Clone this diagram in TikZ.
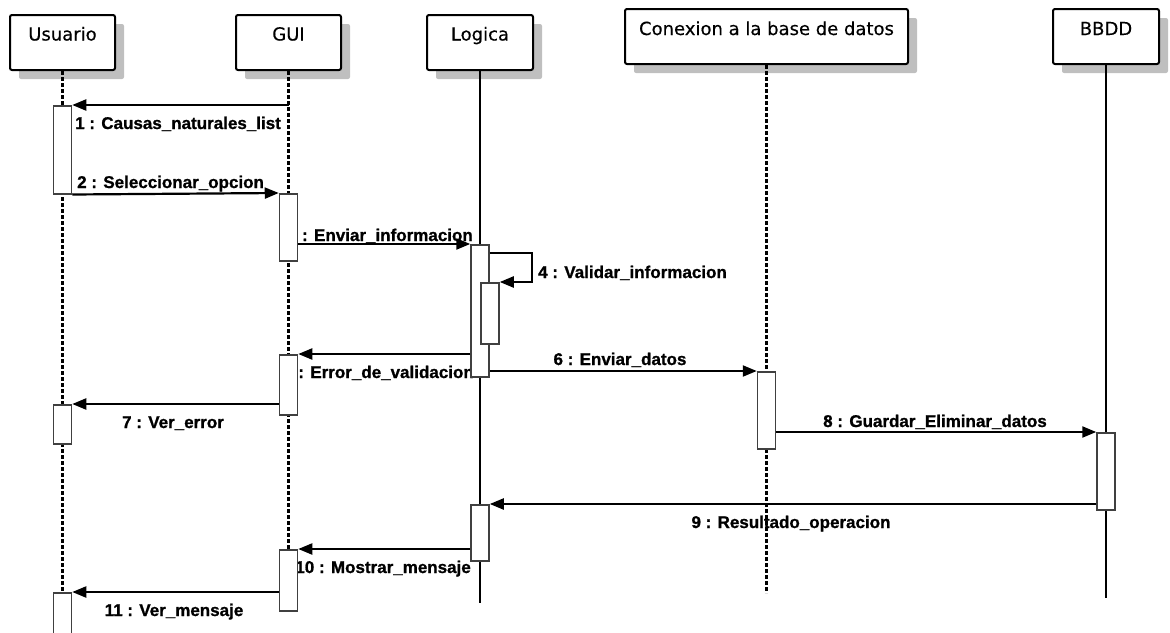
\documentclass[tikz,border=0pt]{standalone}
\usepackage{fontspec}
\usetikzlibrary{arrows.meta,shadows}
\newfontfamily\headfont[FakeBold=0.4]{DejaVu Sans}
\newfontfamily\msgfont[FakeBold=1]{Liberation Sans}
\begin{document}
\begin{tikzpicture}[x=1pt,y=-1pt,
  head/.style={draw, line width=2pt, rounded corners=2pt, fill=white,
    minimum height=55pt, inner sep=0pt,
    drop shadow={shadow xshift=9pt, shadow yshift=-9pt, fill=black!25, opacity=1}},
  headtext/.style={font=\headfont\fontsize{18}{21}\selectfont, inner sep=0pt},
  act/.style={draw=black!75, line width=1.5pt, fill=white, minimum width=18pt,
    inner sep=0pt, anchor=north},
  msg/.style={line width=2.2pt, -{Triangle[length=14pt,width=11pt]}},
  lbl/.style={font=\msgfont\bfseries\fontsize{17}{20}\selectfont, inner sep=0pt},
  lifedash/.style={line width=2.2pt, dash pattern=on 4pt off 2pt},
  lifesolid/.style={line width=2.2pt}]
\useasboundingbox (0,0) rectangle (1170,632);

% participants
\node[head, minimum width=105pt] (usr) at (62.5,42.5) {};
\node[head, minimum width=105pt] (gui) at (288.5,42.5) {};
\node[head, minimum width=106pt] (log) at (480,42.5) {};
\node[head, minimum width=283pt] (con) at (766.5,36.5) {};
\node[head, minimum width=106pt] (bd)  at (1106,36.5) {};
\node[headtext, anchor=base] (tusr) at (usr.center |- 0,40.5) {Usuario};
\node[headtext, anchor=base] (tgui) at (gui.center |- 0,40.5) {GUI};
\node[headtext, anchor=base] (tlog) at (log.center |- 0,40.5) {Logica};
\node[headtext, anchor=base] (tcon) at (con.center |- 0,35) {Conexion a la base de datos};
\node[headtext, anchor=base] (tbd)  at (bd.center |- 0,35) {BBDD};

% message labels
\node[lbl, anchor=base west] (l1) at (75,129) {1 : Causas\_naturales\_list};
\node[lbl, anchor=base west] (l2) at (77,188) {2 : Seleccionar\_opcion};
\node[lbl, anchor=base east] (l3) at (473,241) {3 : Enviar\_informacion};
\node[lbl, anchor=base west] (l4) at (538,278) {4 : Validar\_informacion};
\node[lbl, anchor=base east] (l5) at (474,378) {5 : Error\_de\_validacion};
\node[lbl, anchor=base] (l6) at (620,365) {6 : Enviar\_datos};
\node[lbl, anchor=base] (l7) at (173,428) {7 : Ver\_error};
\node[lbl, anchor=base] (l8) at (935,427) {8 : Guardar\_Eliminar\_datos};
\node[lbl, anchor=base] (l9) at (791,528) {9 : Resultado\_operacion};
\node[lbl, anchor=base east] (l10) at (471,573) {10 : Mostrar\_mensaje};
\node[lbl, anchor=base] (l11) at (174,616) {11 : Ver\_mensaje};

% lifelines
\coordinate (usrEnd) at (62.5,632);
\coordinate (guiEnd) at (288.5,549);
\coordinate (logEnd) at (480,603);
\coordinate (conEnd) at (766.5,593);
\coordinate (bdEnd)  at (1106,598);
\draw[lifedash]  (usr.south) -- (usrEnd);
\draw[lifedash]  (gui.south) -- (guiEnd);
\draw[lifesolid] (log.south) -- (logEnd);
\draw[lifedash]  (con.south) -- (conEnd);
\draw[lifesolid] (bd.south)  -- (bdEnd);

% activation bars
\node[act, minimum height=88pt] (aU1) at (62.5,105) {};
\node[act, minimum height=67pt] (aG1) at (288.5,193) {};
\node[act, minimum height=132pt] (aL1) at (480,244) {};
\node[act, minimum height=61pt] (aL1n) at (490,282) {};
\node[act, minimum height=60pt] (aG2) at (288.5,354) {};
\node[act, minimum height=77pt] (aC1) at (766.5,371) {};
\node[act, minimum height=39pt] (aU2) at (62.5,404) {};
\node[act, minimum height=77pt] (aB1) at (1106,432) {};
\node[act, minimum height=56pt] (aL2) at (480,504) {};
\node[act, minimum height=61pt] (aG3) at (288.5,549) {};
\node[act, minimum height=45pt] (aU3) at (62.5,592) {};

% messages
\coordinate (selfR) at (532,253);
\draw[msg] (aU1.north east -| gui.south) -- (aU1.north east);
\draw[msg] (aU1.south east) -- (aG1.north west);
\draw[msg] (aG1.east |- aL1.north) -- (aL1.north west);
\draw[msg] (aL1.east |- selfR) -- (selfR) |- (aL1n.north east);
\draw[msg] (aL1.west |- aG2.north) -- (aG2.north east);
\draw[msg] (aL1.east |- aC1.north) -- (aC1.north west);
\draw[msg] (aG2.west |- aU2.north) -- (aU2.north east);
\draw[msg] (aC1.east |- aB1.north) -- (aB1.north west);
\draw[msg] (aB1.west |- aL2.north) -- (aL2.north east);
\draw[msg] (aL2.west |- aG3.north) -- (aG3.north east);
\draw[msg] (aG3.west |- aU3.north) -- (aU3.north east);
\end{tikzpicture}
\end{document}
